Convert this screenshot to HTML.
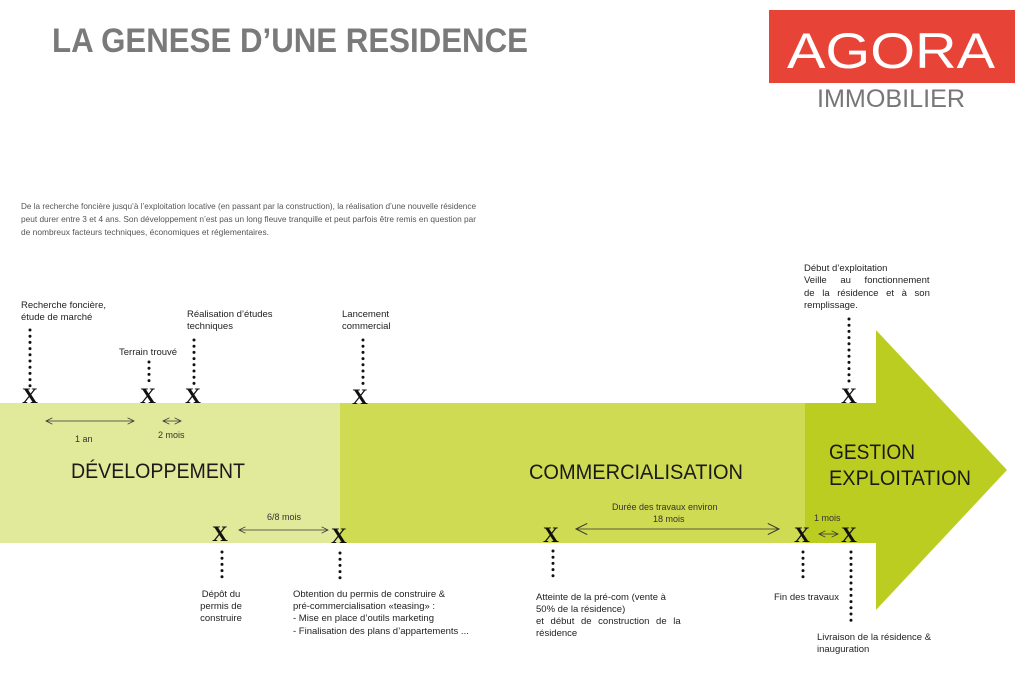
<!DOCTYPE html>
<html><head><meta charset="utf-8"><style>
html,body{margin:0;padding:0;background:#fff;width:1024px;height:683px;overflow:hidden}
svg{display:block}
text{font-family:"Liberation Sans",sans-serif}
text.x{font-family:"Liberation Serif",serif}
</style></head><body>
<svg width="1024" height="683" viewBox="0 0 1024 683" xmlns="http://www.w3.org/2000/svg">
<defs>
<marker id="ah" viewBox="0 0 10 10" refX="9" refY="5" markerWidth="8" markerHeight="8" orient="auto-start-reverse" markerUnits="userSpaceOnUse">
<path d="M1 1 L9 5 L1 9" fill="none" stroke="#333" stroke-width="1"/></marker>
<marker id="ah2" viewBox="0 0 10 10" refX="9" refY="5" markerWidth="14" markerHeight="14" orient="auto-start-reverse" markerUnits="userSpaceOnUse">
<path d="M1 1 L9 5 L1 9" fill="none" stroke="#333" stroke-width="0.7"/></marker>
</defs>
<text x="52" y="52" font-size="34" font-weight="bold" fill="#7a7a7a" textLength="476" lengthAdjust="spacingAndGlyphs">LA GENESE D’UNE RESIDENCE</text>
<rect x="769" y="10" width="246" height="73" fill="#e84337"/>
<text x="787" y="68" font-size="50" fill="#fff" textLength="208" lengthAdjust="spacingAndGlyphs">AGORA</text>
<text x="817" y="107" font-size="25" fill="#777" textLength="148" lengthAdjust="spacingAndGlyphs">IMMOBILIER</text>
<g font-size="8.2" fill="#555">
<text x="21" y="209" textLength="455" lengthAdjust="spacingAndGlyphs">De la recherche foncière jusqu’à l’exploitation locative (en passant par la construction), la réalisation d’une nouvelle résidence</text>
<text x="21" y="222" textLength="455" lengthAdjust="spacingAndGlyphs">peut durer entre 3 et 4 ans. Son développement n’est pas un long fleuve tranquille et peut parfois être remis en question par</text>
<text x="21" y="235" textLength="248" lengthAdjust="spacingAndGlyphs">de nombreux facteurs techniques, économiques et réglementaires.</text>
</g>
<rect x="0" y="403" width="340" height="140" fill="#e1e99a"/>
<rect x="340" y="403" width="466" height="140" fill="#cfdb52"/>
<polygon points="805,403 876,403 876,330 1007,470 876,610 876,543 805,543" fill="#bccd22"/>
<g fill="#1a1a1a">
<text x="71" y="478" font-size="21" textLength="174" lengthAdjust="spacingAndGlyphs">DÉVELOPPEMENT</text>
<text x="529" y="479" font-size="21" textLength="214" lengthAdjust="spacingAndGlyphs">COMMERCIALISATION</text>
<text x="829" y="459" font-size="21" textLength="86" lengthAdjust="spacingAndGlyphs">GESTION</text>
<text x="829" y="485" font-size="21" textLength="142" lengthAdjust="spacingAndGlyphs">EXPLOITATION</text>
</g>
<g stroke="#333" stroke-width="0.8" fill="none">
<line x1="46" y1="421" x2="134" y2="421" marker-start="url(#ah)" marker-end="url(#ah)"/>
<line x1="163" y1="421" x2="181" y2="421" marker-start="url(#ah)" marker-end="url(#ah)"/>
<line x1="239" y1="530" x2="328" y2="530" marker-start="url(#ah)" marker-end="url(#ah)"/>
<line x1="576" y1="529" x2="779" y2="529" marker-start="url(#ah2)" marker-end="url(#ah2)"/>
<line x1="819" y1="534" x2="838" y2="534" marker-start="url(#ah)" marker-end="url(#ah)"/>
</g>
<g font-size="9" fill="#333">
<text x="75" y="442">1 an</text>
<text x="158" y="438">2 mois</text>
<text x="267" y="520">6/8 mois</text>
<text x="612" y="510">Durée des travaux environ</text>
<text x="653" y="522">18 mois</text>
<text x="814" y="521">1 mois</text>
</g>
<g font-weight="bold" font-size="22" fill="#111" text-anchor="middle">
<text class="x" x="30" y="403">X</text><text class="x" x="148" y="403">X</text><text class="x" x="193" y="403">X</text><text class="x" x="360" y="404">X</text><text class="x" x="849" y="403">X</text>
<text class="x" x="220" y="541">X</text><text class="x" x="339" y="543">X</text><text class="x" x="551" y="542">X</text><text class="x" x="802" y="542">X</text><text class="x" x="849" y="542">X</text>
</g>
<g stroke="#111" stroke-width="3" stroke-linecap="round" stroke-dasharray="0 6.2">
<line x1="30" y1="330" x2="30" y2="386"/>
<line x1="149" y1="362" x2="149" y2="386"/>
<line x1="194" y1="340" x2="194" y2="386"/>
<line x1="363" y1="340" x2="363" y2="388"/>
<line x1="849" y1="319" x2="849" y2="386"/>
<line x1="222" y1="552" x2="222" y2="582"/>
<line x1="340" y1="553" x2="340" y2="583"/>
<line x1="553" y1="551" x2="553" y2="581"/>
<line x1="803" y1="552" x2="803" y2="582"/>
<line x1="851" y1="552" x2="851" y2="621"/>
</g>
<g font-size="9.5" fill="#222">
<text x="21" y="308">Recherche foncière,</text>
<text x="21" y="320">étude de marché</text>
<text x="119" y="355">Terrain trouvé</text>
<text x="187" y="317">Réalisation d’études</text>
<text x="187" y="329">techniques</text>
<text x="342" y="317">Lancement</text>
<text x="342" y="329">commercial</text>
<text x="804" y="271">Début d’exploitation</text>
<text x="804" y="283" word-spacing="11">Veille au fonctionnement</text>
<text x="804" y="296" word-spacing="5">de la résidence et à son</text>
<text x="804" y="308">remplissage.</text>
<text x="221" y="597" text-anchor="middle">Dépôt du</text>
<text x="221" y="609" text-anchor="middle">permis de</text>
<text x="221" y="621" text-anchor="middle">construire</text>
<text x="293" y="597">Obtention du permis de construire &amp;</text>
<text x="293" y="609">pré-commercialisation «teasing» :</text>
<text x="293" y="621">- Mise en place d’outils marketing</text>
<text x="293" y="634">- Finalisation des plans d’appartements ...</text>
<text x="536" y="600">Atteinte de la pré-com (vente à</text>
<text x="536" y="612">50% de la résidence)</text>
<text x="536" y="624" word-spacing="4">et début de construction de la</text>
<text x="536" y="636">résidence</text>
<text x="774" y="600">Fin des travaux</text>
<text x="817" y="640">Livraison de la résidence &amp;</text>
<text x="817" y="652">inauguration</text>
</g>
</svg>
</body></html>
